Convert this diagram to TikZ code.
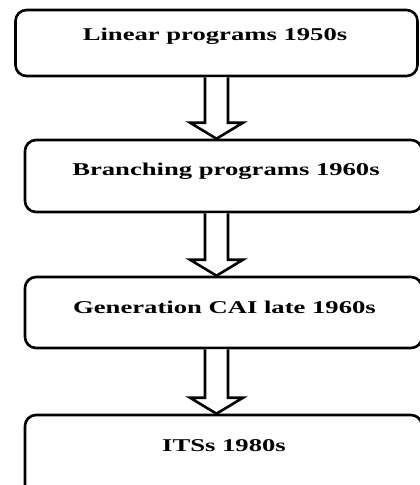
\documentclass[tikz,border=0pt]{standalone}
\usepackage{fontspec}
\setmainfont{Liberation Serif}
\usetikzlibrary{calc}
\tikzset{
  stagebox/.style={draw=black, line width=2.6pt, rounded corners=11pt, fill=white, inner sep=0pt},
  stagetext/.style={anchor=base, inner sep=0pt, text=black, font=\fontsize{18}{20}\selectfont\bfseries},
  blockarrow/.style={draw=black, line width=2.6pt, fill=white, line join=miter}
}
\newcommand{\wide}[1]{\scalebox{1.48}[1]{#1}}
\begin{document}
\begin{tikzpicture}[x=1pt,y=-1pt]
\useasboundingbox (0,0) rectangle (420,485);
\clip (0,0) rectangle (420,485);
% boxes
\node[stagebox, minimum width=402pt, minimum height=66pt] (b1) at (216.5,43) {};
\node[stagebox, minimum width=397pt, minimum height=72pt] (b2) at (223.5,176) {};
\node[stagebox, minimum width=397pt, minimum height=71pt] (b3) at (223.5,312.5) {};
\node[stagebox, minimum width=397pt, minimum height=90pt] (b4) at (223.5,460) {};
% texts
\node[stagetext] (t1) at (215,40) {\wide{Linear programs 1950s}};
\node[stagetext] (t2) at (226,175) {\wide{Branching programs 1960s}};
\node[stagetext] (t3) at (224.5,313) {\wide{Generation CAI late 1960s}};
\node[stagetext] (t4) at (224,451) {\wide{ITSs 1980s}};
% block arrows
\foreach \a/\b in {b1/b2, b2/b3, b3/b4}{
  \draw[blockarrow] let \p1=(b1.south), \p2=(\a.south), \p3=(\b.north) in
    (\x1-11.5pt,\y2) -- (\x1-11.5pt,\y3+16pt) -- (\x1-26.5pt,\y3+16pt) -- (\x1,\y3)
    -- (\x1+26.5pt,\y3+16pt) -- (\x1+11.5pt,\y3+16pt) -- (\x1+11.5pt,\y2);
}
\end{tikzpicture}
\end{document}
